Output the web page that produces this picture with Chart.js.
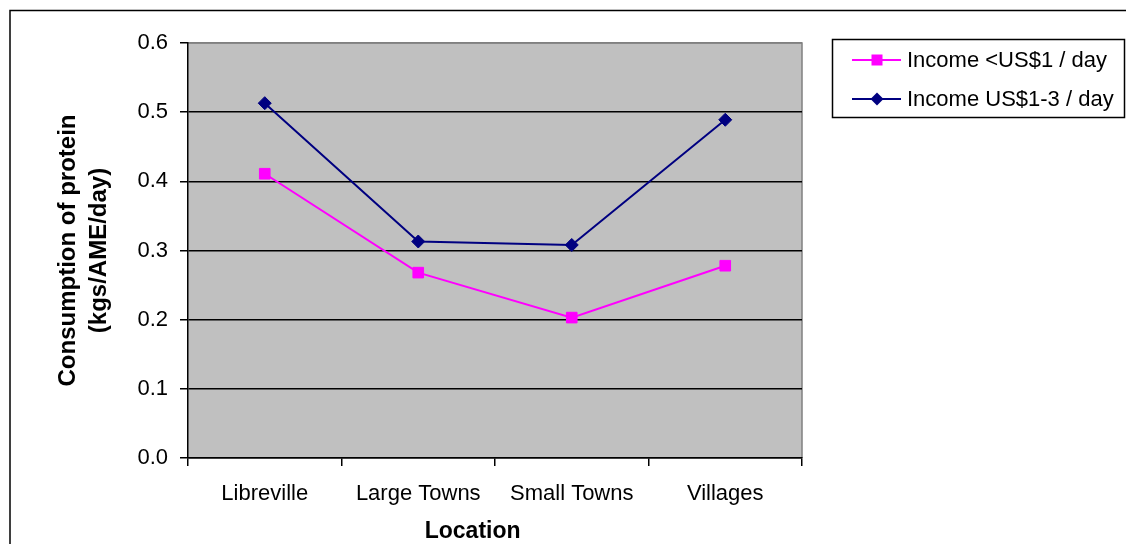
<!DOCTYPE html>
<html lang="en">
<head>
<meta charset="UTF-8">
<title>Consumption of protein by location</title>
<script src="https://cdn.jsdelivr.net/npm/chart.js"></script>
<style>
  body { margin: 0; background: #fff; }
  #wrap { width: 1126px; height: 544px; }
</style>
</head>
<body>
<div id="wrap"><canvas id="myChart" width="1126" height="544"></canvas></div>
<script>
const locations = ['Libreville', 'Large Towns', 'Small Towns', 'Villages'];
const seriesNames = ['Income <US$1 / day', 'Income US$1-3 / day'];
const incomeBelow1 = [0.411, 0.268, 0.203, 0.278];
const income1to3 = [0.513, 0.313, 0.308, 0.489];
const yTickLabels = ['0.0', '0.1', '0.2', '0.3', '0.4', '0.5', '0.6'];

const FONT = '"Liberation Sans", Arial, sans-serif';

// grey plot area, outer frame and the boxed legend (Excel style)
const excelLook = {
    id: 'excelLook',
    beforeDraw(chart) {
        const ctx = chart.ctx;
        const a = chart.chartArea;
        ctx.save();
        ctx.fillStyle = '#c0c0c0';
        ctx.fillRect(a.left, a.top, a.right - a.left, a.bottom - a.top);
        ctx.strokeStyle = '#808080';
        ctx.lineWidth = 1.5;
        ctx.beginPath();
        ctx.moveTo(a.left, a.top);
        ctx.lineTo(a.right, a.top);
        ctx.lineTo(a.right, a.bottom);
        ctx.stroke();
        ctx.strokeStyle = '#000';
        ctx.beginPath();
        ctx.moveTo(10, chart.height);
        ctx.lineTo(10, 10.5);
        ctx.lineTo(chart.width, 10.5);
        ctx.stroke();
        ctx.restore();
    },
    afterDraw(chart) {
        const ctx = chart.ctx;
        ctx.save();
        ctx.strokeStyle = '#000';
        ctx.lineWidth = 1.5;
        ctx.strokeRect(832.5, 39.5, 292, 78);
        chart.data.datasets.forEach((ds, i) => {
            const y = 60 + i * 39;
            ctx.strokeStyle = ds.borderColor;
            ctx.lineWidth = 2;
            ctx.beginPath();
            ctx.moveTo(852, y);
            ctx.lineTo(901, y);
            ctx.stroke();
            ctx.fillStyle = ds.backgroundColor;
            ctx.beginPath();
            if (ds.pointStyle === 'rect') {
                ctx.rect(877 - 5.5, y - 5.5, 11, 11);
            } else {
                ctx.moveTo(877, y - 6.5);
                ctx.lineTo(883.5, y);
                ctx.lineTo(877, y + 6.5);
                ctx.lineTo(870.5, y);
                ctx.closePath();
            }
            ctx.fill();
            ctx.fillStyle = '#000';
            ctx.font = '22px ' + FONT;
            ctx.textAlign = 'left';
            ctx.textBaseline = 'middle';
            ctx.fillText(ds.label, 907, y + 1);
        });
        ctx.restore();
    }
};

const ctx = document.getElementById('myChart');
new Chart(ctx, {
    type: 'line',
    data: {
        labels: locations,
        datasets: [
            {
                label: seriesNames[0],
                data: incomeBelow1,
                borderColor: '#ff00ff',
                backgroundColor: '#ff00ff',
                borderWidth: 2,
                pointStyle: 'rect',
                pointRadius: 7.5,
                pointBorderWidth: 1,
                tension: 0
            },
            {
                label: seriesNames[1],
                data: income1to3,
                borderColor: '#000080',
                backgroundColor: '#000080',
                borderWidth: 2,
                pointStyle: 'rectRot',
                pointRadius: 6.5,
                pointBorderWidth: 1,
                tension: 0
            }
        ]
    },
    options: {
        responsive: false,
        animation: false,
        events: [],
        layout: { padding: { left: 10, top: 43, right: 324, bottom: 0 } },
        plugins: {
            legend: { display: false },
            tooltip: { enabled: false }
        },
        scales: {
            x: {
                offset: true,
                afterFit(scale) { scale.height = 86; },
                border: { color: '#000', width: 1.5 },
                grid: { offset: true, drawOnChartArea: false, tickLength: 8, color: '#000', lineWidth: 1.5 },
                ticks: { color: '#000', font: { family: FONT, size: 22 }, padding: 15, maxRotation: 0, autoSkip: false },
                title: {
                    display: true,
                    text: 'Location       ',
                    color: '#000',
                    font: { family: FONT, size: 23, weight: 'bold', lineHeight: 1 },
                    padding: { top: 0, bottom: 1 }
                }
            },
            y: {
                min: 0,
                max: 0.6,
                afterFit(scale) { scale.width = 178; },
                border: { color: '#000', width: 1.5 },
                grid: {
                    color: c => c.index === 6 ? '#808080' : '#000',
                    tickColor: '#000',
                    lineWidth: 1.5,
                    tickLength: 8
                },
                ticks: {
                    stepSize: 0.1,
                    color: '#000',
                    font: { family: FONT, size: 22 },
                    padding: 12,
                    callback: (v, i) => yTickLabels[i]
                },
                title: {
                    display: true,
                    text: ['Consumption of protein', '(kgs/AME/day)'],
                    color: '#000',
                    font: { family: FONT, size: 24, weight: 'bold', lineHeight: 1.3 },
                    padding: { top: 43, bottom: 0 }
                }
            }
        }
    },
    plugins: [excelLook]
});
</script>
</body>
</html>
